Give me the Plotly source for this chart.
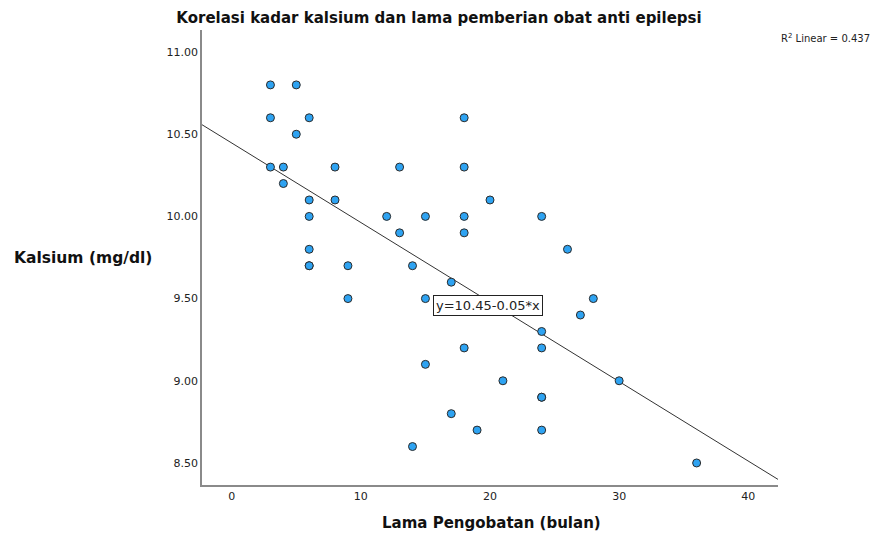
import numpy as np
import plotly.graph_objects as go

# Lama pengobatan (bulan)
durasi = [3, 5, 3, 6, 5, 3, 4, 4, 8, 6, 8, 6, 6, 6, 6, 9, 9,
          12, 13, 13, 15, 18, 18, 18, 18, 20, 14, 17, 15,
          24, 26, 28, 27, 24, 24, 18, 15, 21, 30, 24, 24, 17, 19, 24, 14, 36]
# Kalsium (mg/dl)
kalsium = [10.8, 10.8, 10.6, 10.6, 10.5, 10.3, 10.3, 10.2, 10.3, 10.1, 10.1, 10.0, 9.8, 9.7, 9.7, 9.7, 9.5,
           10.0, 10.3, 9.9, 10.0, 10.6, 10.3, 10.0, 9.9, 10.1, 9.7, 9.6, 9.5,
           10.0, 9.8, 9.5, 9.4, 9.3, 9.2, 9.2, 9.1, 9.0, 9.0, 8.9, 8.9, 8.8, 8.7, 8.7, 8.6, 8.5]

x_ticks = [0, 10, 20, 30, 40]
y_ticks = [8.5, 9.0, 9.5, 10.0, 10.5, 11.0]
x_range = [-2.3, 42.3]
y_range = [8.366, 11.134]

slope, intercept = np.polyfit(durasi, kalsium, 1)
fit_x = np.array(x_range)
fit_y = intercept + slope * fit_x

fig = go.Figure()
fig.add_trace(go.Scatter(
    x=fit_x, y=fit_y, mode="lines",
    line=dict(color="#333333", width=1), hoverinfo="skip", showlegend=False))
fig.add_trace(go.Scatter(
    x=durasi, y=kalsium, mode="markers",
    marker=dict(size=8, color="#2ea3f2", line=dict(color="#2b2b2b", width=1)),
    showlegend=False))

font = "DejaVu Sans, Verdana, sans-serif"
W, H = 872, 529
fig.update_layout(
    width=W, height=H,
    margin=dict(l=194, r=102, t=22, b=52),
    paper_bgcolor="white", plot_bgcolor="white",
    font=dict(family=font, color="#222222", size=11),
    title=dict(text="<b>Korelasi kadar kalsium dan lama pemberian obat anti epilepsi</b>",
               x=(439 - 8) / W, xanchor="center", y=1 - 10 / H, yanchor="middle",
               font=dict(size=15, color="#111111")),
    xaxis=dict(range=x_range, tickvals=x_ticks, showgrid=False, zeroline=False,
               showline=True, linecolor="#8a8a8a", linewidth=1.5, ticks="",
               tickfont=dict(size=11, color="#222222")),
    yaxis=dict(range=y_range, tickvals=y_ticks, tickformat=".2f", showgrid=False,
               zeroline=False, showline=True, linecolor="#8a8a8a", linewidth=1.5,
               ticks="", tickfont=dict(size=11, color="#222222")),
    annotations=[
        dict(text="<b>Kalsium (mg/dl)</b>", xref="paper", yref="paper",
             x=(83 - 202) / 576, y=0.499, xanchor="center", yanchor="middle",
             showarrow=False, font=dict(size=15.5, color="#111111")),
        dict(text="<b>Lama Pengobatan (bulan)</b>", xref="paper", yref="paper",
             x=0.502, y=(485 - 523) / 455, xanchor="center", yanchor="middle",
             showarrow=False, font=dict(size=15, color="#111111")),
        dict(text="R<sup>2</sup> Linear = 0.437", xref="paper", yref="paper",
             x=(779 - 202) / 576, y=0.982, xanchor="left", yanchor="middle",
             showarrow=False, font=dict(size=10, color="#222222")),
        dict(text="y=10.45-0.05*x", xref="x", yref="y",
             x=19.85, y=9.457, xanchor="center", yanchor="middle",
             showarrow=False, bgcolor="white", bordercolor="#222222",
             borderwidth=1, borderpad=2, font=dict(size=13, color="#222222")),
    ],
)

fig.write_html("out.html")
